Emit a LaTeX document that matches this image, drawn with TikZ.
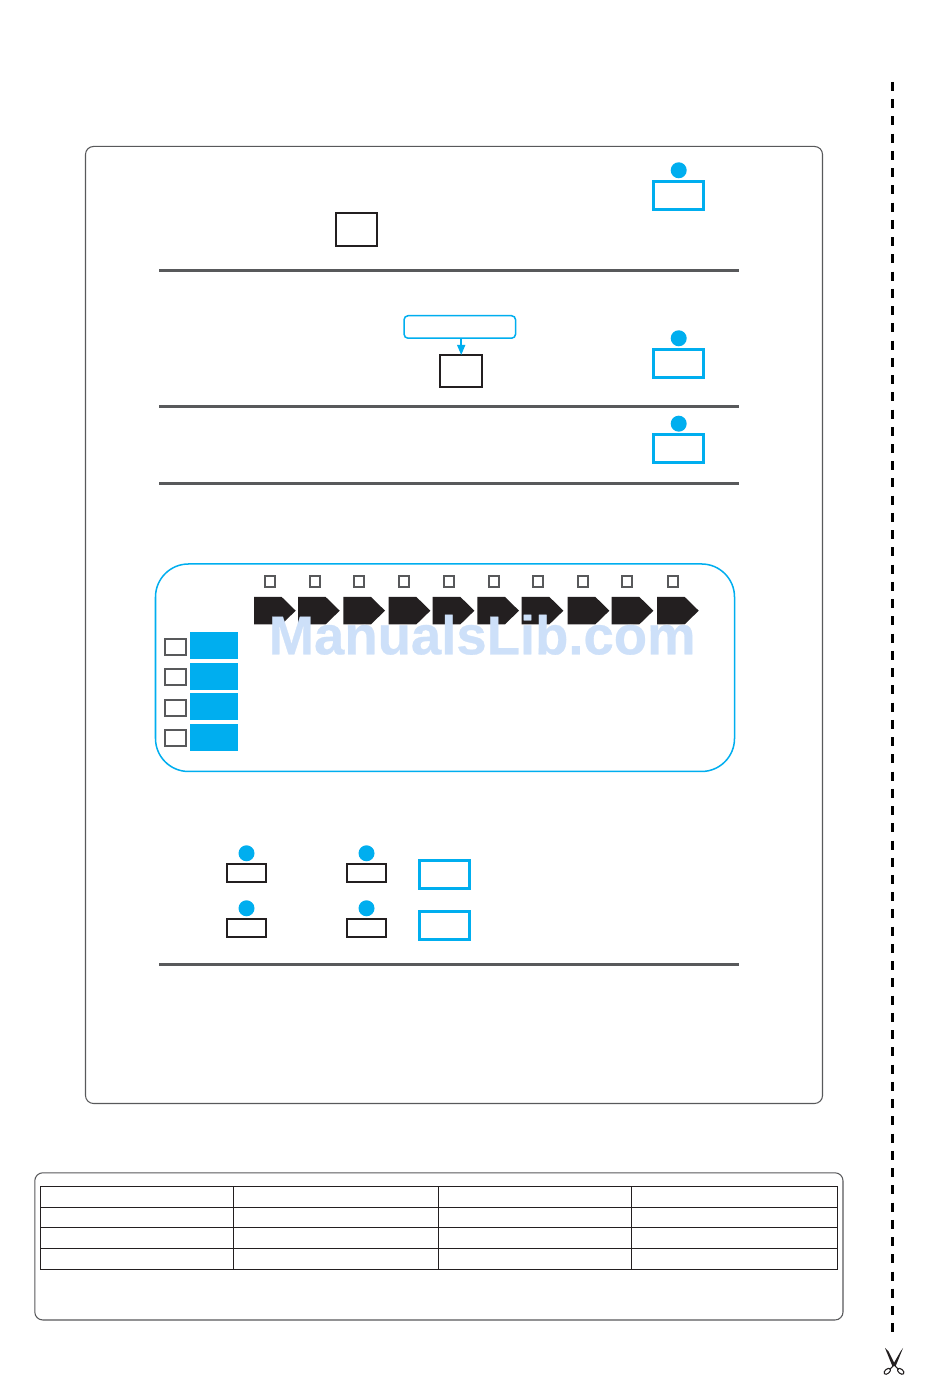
\documentclass[tikz,border=0pt]{standalone}
\usepackage{xcolor}
\usepackage{fontspec}
\usepackage{tikz}
\usetikzlibrary{arrows.meta}
\newfontfamily\markfont[BoldFeatures={FakeBold=0.5}]{Liberation Sans}
\definecolor{SheetBlue}{HTML}{00AEEF}
\definecolor{SheetBlack}{HTML}{231F20}
\definecolor{SheetGray}{HTML}{58595B}
\definecolor{SheetMark}{HTML}{CDE0F9}
\tikzset{
  bluebox/.style={draw=SheetBlue,line width=.85pt,inner sep=0pt,outer sep=0pt,minimum width=.50cm,minimum height=.275cm},
  blackbox/.style={draw=SheetBlack,line width=.57pt,inner sep=0pt,outer sep=0pt},
  tickbox/.style={draw=SheetGray,line width=.57pt,inner sep=0pt,outer sep=0pt,minimum width=.10cm,minimum height=.105cm},
  sidebox/.style={draw=SheetGray,line width=.57pt,inner sep=0pt,outer sep=0pt,minimum width=.21cm,minimum height=.157cm},
  bluetab/.style={fill=SheetBlue,inner sep=0pt,outer sep=0pt,minimum width=.48cm,minimum height=.27cm},
  bluedot/.style={fill=SheetBlue,circle,inner sep=0pt,outer sep=0pt,minimum size=.16cm},
}
\begin{document}
\begin{tikzpicture}[x=1cm,y=1cm]
\path[use as bounding box] (0,0) rectangle (9.50,13.78);
\fill[white] (0,0) rectangle (9.50,13.78);
% main panel
\draw[SheetGray,line width=.3pt,rounded corners=.08cm] (0.855,12.315) rectangle (8.225,2.745);
\draw[SheetGray,line width=.85pt] (1.59,11.073) -- (7.39,11.073);
\draw[SheetGray,line width=.85pt] (1.59,9.715) -- (7.39,9.715);
\draw[SheetGray,line width=.85pt] (1.59,8.94) -- (7.39,8.94);
\draw[SheetGray,line width=.85pt] (1.59,4.135) -- (7.39,4.135);
% first rows
\node[bluebox] (cellA) at (6.785,11.825) {};
\node[bluedot] (dotA) at (6.787,12.077) {};
\node[blackbox,minimum width=.41cm,minimum height=.33cm] (slotA) at (3.565,11.485) {};
\node[draw=SheetBlue,line width=.43pt,rounded corners=.04cm,inner sep=0pt,outer sep=0pt,minimum width=1.115cm,minimum height=.225cm] (notice) at (4.598,10.51) {};
\node[blackbox,minimum width=.415cm,minimum height=.32cm] (slotB) at (4.612,10.07) {};
\draw[SheetBlue,line width=.43pt,-{Triangle[length=.10cm,width=.08cm]}] (slotB.north |- notice.south) -- (slotB.north);
\node[bluebox] (cellB) at (6.785,10.145) {};
\node[bluedot] (dotB) at (6.787,10.397) {};
\node[bluebox] (cellC) at (6.785,9.295) {};
\node[bluedot] (dotC) at (6.787,9.543) {};
% display
\draw[SheetBlue,line width=.43pt,rounded corners=.33cm] (1.555,8.14) rectangle (7.345,6.065);
\node[tickbox] (tickA) at (2.70,7.967) {};
\node[tickbox] (tickB) at (3.145,7.967) {};
\node[tickbox] (tickC) at (3.59,7.967) {};
\node[tickbox] (tickD) at (4.035,7.967) {};
\node[tickbox] (tickE) at (4.49,7.967) {};
\node[tickbox] (tickF) at (4.94,7.967) {};
\node[tickbox] (tickG) at (5.38,7.967) {};
\node[tickbox] (tickH) at (5.83,7.967) {};
\node[tickbox] (tickI) at (6.27,7.967) {};
\node[tickbox] (tickJ) at (6.73,7.967) {};
\fill[SheetBlack] (2.54,7.81) -- ++(.277,0) -- ++(.14,-.137) -- ++(-.14,-.136) -- ++(-.277,0) -- cycle;
\fill[SheetBlack] (2.98,7.81) -- ++(.277,0) -- ++(.14,-.137) -- ++(-.14,-.136) -- ++(-.277,0) -- cycle;
\fill[SheetBlack] (3.433,7.81) -- ++(.277,0) -- ++(.14,-.137) -- ++(-.14,-.136) -- ++(-.277,0) -- cycle;
\fill[SheetBlack] (3.887,7.81) -- ++(.277,0) -- ++(.14,-.137) -- ++(-.14,-.136) -- ++(-.277,0) -- cycle;
\fill[SheetBlack] (4.327,7.81) -- ++(.277,0) -- ++(.14,-.137) -- ++(-.14,-.136) -- ++(-.277,0) -- cycle;
\fill[SheetBlack] (4.773,7.81) -- ++(.277,0) -- ++(.14,-.137) -- ++(-.14,-.136) -- ++(-.277,0) -- cycle;
\fill[SheetBlack] (5.217,7.81) -- ++(.277,0) -- ++(.14,-.137) -- ++(-.14,-.136) -- ++(-.277,0) -- cycle;
\fill[SheetBlack] (5.677,7.81) -- ++(.277,0) -- ++(.14,-.137) -- ++(-.14,-.136) -- ++(-.277,0) -- cycle;
\fill[SheetBlack] (6.117,7.81) -- ++(.277,0) -- ++(.14,-.137) -- ++(-.14,-.136) -- ++(-.277,0) -- cycle;
\fill[SheetBlack] (6.57,7.81) -- ++(.277,0) -- ++(.14,-.137) -- ++(-.14,-.136) -- ++(-.277,0) -- cycle;
\node[sidebox] (sideA) at (1.755,7.312) {};
\node[sidebox] (sideB) at (1.755,7.01) {};
\node[sidebox] (sideC) at (1.755,6.70) {};
\node[sidebox] (sideD) at (1.755,6.40) {};
\node[bluetab] (tabA) at (2.14,7.325) {};
\node[bluetab] (tabB) at (2.14,7.015) {};
\node[bluetab] (tabC) at (2.14,6.715) {};
\node[bluetab] (tabD) at (2.14,6.405) {};
\node[anchor=base west,inner sep=0pt,text=SheetMark] (sitemark) at (2.68,7.237) {\markfont\bfseries\fontsize{15.5pt}{15.5pt}\selectfont ManualsLib.com};
% lower rows
\node[bluedot] (dotD) at (2.465,5.247) {};
\node[blackbox,minimum width=.39cm,minimum height=.177cm] (slotC) at (2.465,5.05) {};
\node[bluedot] (dotE) at (3.665,5.247) {};
\node[blackbox,minimum width=.39cm,minimum height=.177cm] (slotD) at (3.665,5.05) {};
\node[bluedot] (dotF) at (2.465,4.697) {};
\node[blackbox,minimum width=.39cm,minimum height=.177cm] (slotE) at (2.465,4.50) {};
\node[bluedot] (dotG) at (3.665,4.697) {};
\node[blackbox,minimum width=.39cm,minimum height=.177cm] (slotF) at (3.665,4.50) {};
\node[bluebox] (cellD) at (4.445,5.035) {};
\node[bluebox] (cellE) at (4.445,4.525) {};
% bottom table
\draw[SheetGray,line width=.3pt,rounded corners=.08cm] (0.348,2.052) rectangle (8.43,0.58);
\draw[SheetBlack,line width=.3pt] (0.405,1.917) rectangle (8.375,1.087);
\draw[SheetBlack,line width=.3pt] (0.405,1.707) -- (8.375,1.707);
\draw[SheetBlack,line width=.3pt] (0.405,1.507) -- (8.375,1.507);
\draw[SheetBlack,line width=.3pt] (0.405,1.297) -- (8.375,1.297);
\draw[SheetBlack,line width=.3pt] (2.337,1.917) -- (2.337,1.087);
\draw[SheetBlack,line width=.3pt] (4.385,1.917) -- (4.385,1.087);
\draw[SheetBlack,line width=.3pt] (6.315,1.917) -- (6.315,1.087);
% cut line and scissors
\draw[black,line width=.85pt,dash pattern=on .09cm off .0824cm] (8.925,12.96) -- (8.925,0.46);
\fill[SheetBlack] (8.85,.30) -- (8.885,.265) -- (8.95,.135) -- (8.925,.115) -- cycle;
\fill[SheetBlack] (9.03,.30) -- (9.005,.265) -- (8.93,.135) -- (8.955,.115) -- cycle;
\draw[SheetBlack,line width=.3pt] (8.94,.13) -- (8.985,.085);
\draw[SheetBlack,line width=.3pt] (8.94,.13) -- (8.895,.085);
\draw[SheetBlack,line width=.3pt,rotate around={40:(8.873,.067)}] (8.873,.067) ellipse (.038 and .022);
\draw[SheetBlack,line width=.3pt,rotate around={-40:(9.007,.067)}] (9.007,.067) ellipse (.038 and .022);
\end{tikzpicture}
\end{document}
